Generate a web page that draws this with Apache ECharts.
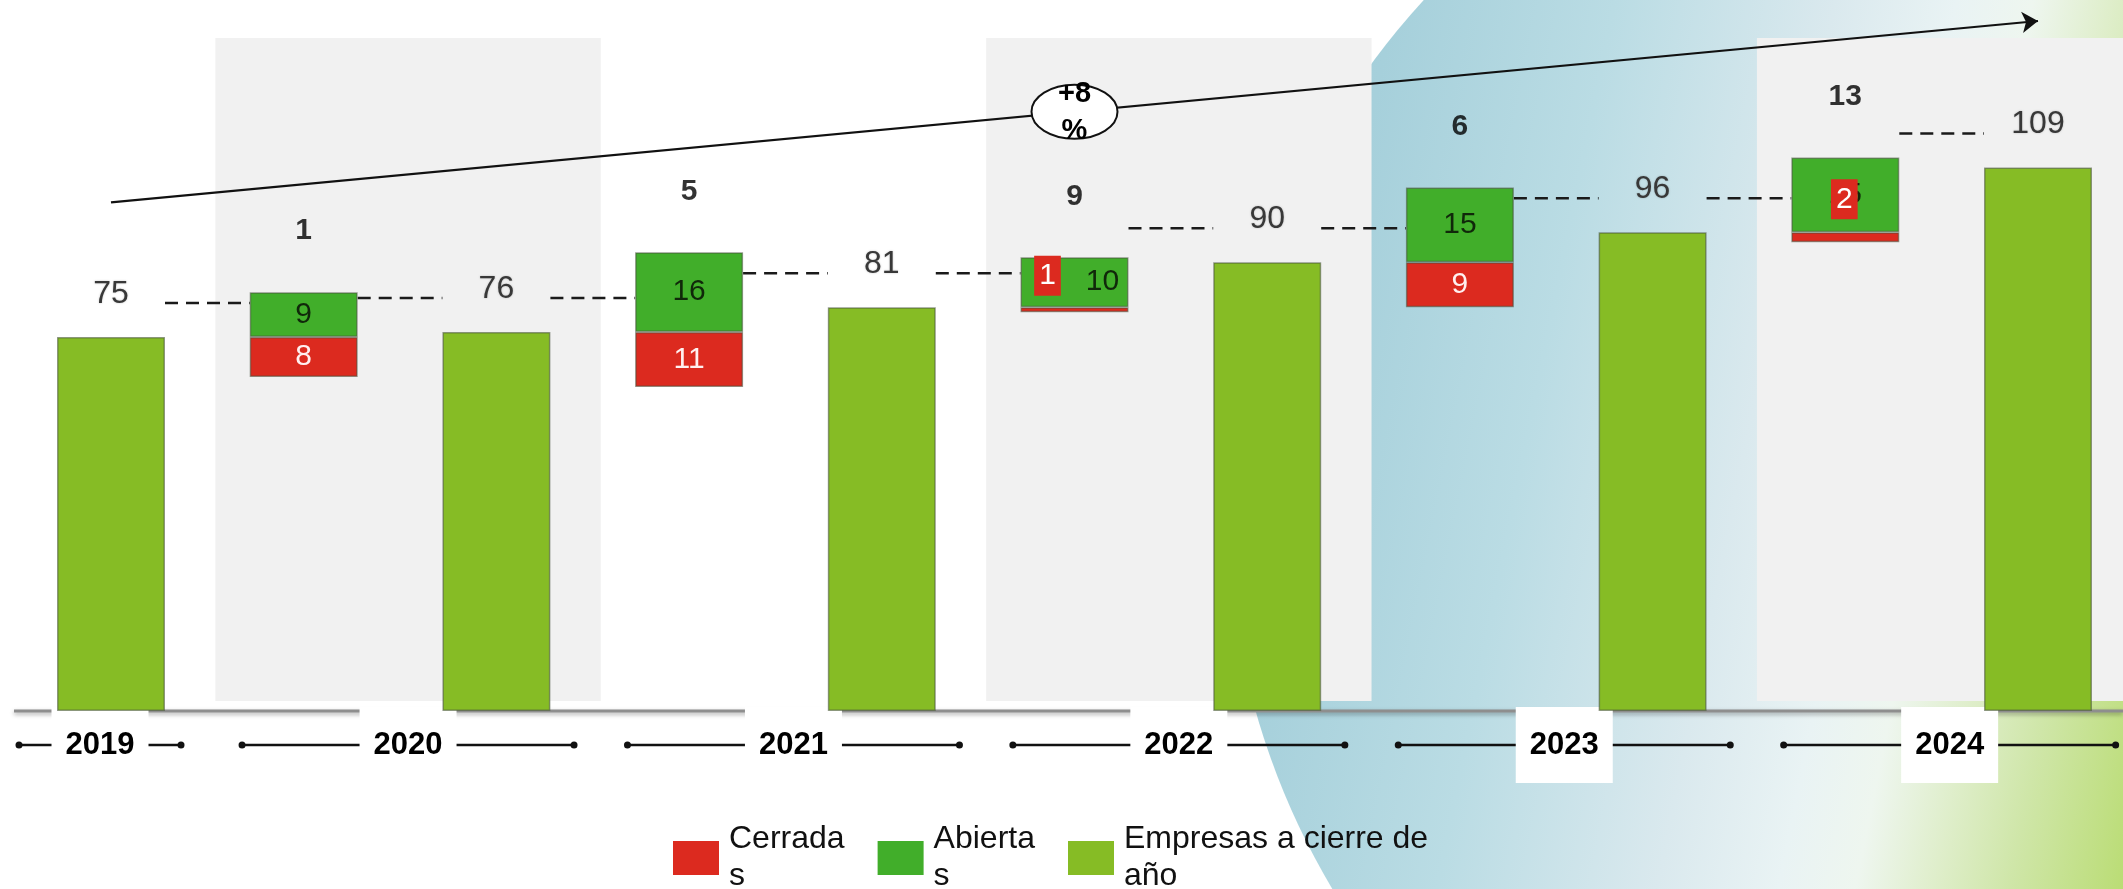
<!DOCTYPE html>
<html>
<head>
<meta charset="utf-8">
<script src="https://cdn.jsdelivr.net/npm/echarts@6/dist/echarts.min.js"></script>
<style>
  html, body { margin: 0; padding: 0; background: #ffffff; }
  #chart { width: 2123px; height: 889px; }
</style>
</head>
<body>
<div id="chart"></div>
<script>
// ---- data -------------------------------------------------------------
const years   = ['2019', '2020', '2021', '2022', '2023', '2024'];
const totals  = [75, 76, 81, 90, 96, 109];   // Empresas a cierre de año
const opened  = [9, 16, 10, 15, 15];         // Abiertas during 2020..2024
const closed  = [8, 11, 1, 9, 2];            // Cerradas during 2020..2024

// ---- look -------------------------------------------------------------
const FONT = '"Liberation Sans", Arial, sans-serif';
const C_TOTAL = '#86bc25';
const C_OPEN  = '#41ae2a';
const C_CLOSE = '#dc2a1f';
const BAR_W = 108;
const TREND_FROM = 102;     // value level where the growth arrow starts
const TREND_TO = 138.4;     // value level where the arrow head sits

// small "Cerradas" values get a tag drawn over the green block
const closedTagOffset = { '2022': [-27, -34], '2024': [-1, -38] };
const openedLabelOffset = { '2022': [28, 0] };

// ---- slot layout: total, move, total, move, ... -------------------------
const slots = [];
years.forEach((y, i) => {
  if (i > 0) slots.push({ kind: 'move', k: i - 1, year: y });
  slots.push({ kind: 'total', k: i, year: y });
});
const catNames = slots.map(s => (s.kind === 'total' ? s.year : 'Δ' + s.year));

const totalData = slots.map(s => (s.kind === 'total' ? totals[s.k] : '-'));
const baseData = slots.map(s => (s.kind === 'move' ? totals[s.k] - closed[s.k] : '-'));
const closedData = slots.map(s => {
  if (s.kind !== 'move') return '-';
  const off = closedTagOffset[s.year];
  if (!off) return closed[s.k];
  return {
    value: closed[s.k],
    label: {
      offset: off, backgroundColor: C_CLOSE, color: '#ffffff',
      padding: [4, 5], lineHeight: 32
    }
  };
});
const openedData = slots.map(s => {
  if (s.kind !== 'move') return '-';
  const off = openedLabelOffset[s.year];
  return off ? { value: opened[s.k], label: { offset: off } } : opened[s.k];
});
const netData = [];
slots.forEach((s, i) => {
  if (s.kind === 'move') {
    netData.push({ value: [i, totals[s.k] + opened[s.k]], net: opened[s.k] - closed[s.k] });
  }
});
const cagr = Math.round((Math.pow(totals[totals.length - 1] / totals[0], 1 / (totals.length - 1)) - 1) * 100);

const barBorder = { borderColor: 'rgba(70,80,60,0.55)', borderWidth: 1.5 };

const chart = echarts.init(document.getElementById('chart'), null, { renderer: 'canvas' });

chart.setOption({
  animation: false,
  backgroundColor: '#ffffff',
  grid: { left: 111, top: 13, width: 1927, height: 698, containLabel: false },
  xAxis: {
    type: 'category',
    data: catNames,
    boundaryGap: false,
    axisTick: { show: false },
    axisLabel: { show: false },
    axisLine: { show: false },
    splitLine: { show: false }
  },
  yAxis: { type: 'value', min: 0, max: 140, show: false, splitLine: { show: false } },
  legend: {
    data: ['Cerradas', 'Abiertas', 'Empresas a cierre de año'],
    left: 673, top: 821, padding: 0,
    icon: 'rect', itemWidth: 46, itemHeight: 34, itemGap: 33,
    itemStyle: { borderWidth: 0 },
    formatter: n => ({ 'Cerradas': 'Cerrada\ns', 'Abiertas': 'Abierta\ns', 'Empresas a cierre de año': 'Empresas a cierre de\naño' }[n]),
    textStyle: { fontFamily: FONT, fontSize: 32, lineHeight: 37, color: '#111111', padding: [0, 0, 0, 5] }
  },
  series: [
    {
      name: 'Empresas a cierre de año', type: 'bar', data: totalData,
      barWidth: BAR_W, barGap: '-100%',
      itemStyle: Object.assign({ color: C_TOTAL }, barBorder),
      label: { show: true, position: 'top', distance: 27, fontFamily: FONT, fontSize: 32, color: '#383838',
               textShadowColor: 'rgba(0,0,0,0.25)', textShadowBlur: 2 },
      markLine: {
        silent: true, symbol: ['none', 'arrow'], symbolSize: 16,
        label: { show: false },
        lineStyle: { color: '#111111', width: 2.2, type: 'solid' },
        data: [[{ coord: [catNames[0], TREND_FROM] }, { coord: [catNames[catNames.length - 1], TREND_TO] }]]
      }
    },
    {
      name: 'base', type: 'bar', stack: 'move', data: baseData, barWidth: BAR_W,
      itemStyle: { color: 'rgba(0,0,0,0)' }, silent: true, label: { show: false }
    },
    {
      name: 'Cerradas', type: 'bar', stack: 'move', data: closedData, barWidth: BAR_W, z: 3,
      itemStyle: Object.assign({ color: C_CLOSE }, barBorder),
      label: { show: true, position: 'inside', fontFamily: FONT, fontSize: 30, color: '#fff0f0' }
    },
    {
      name: 'Abiertas', type: 'bar', stack: 'move', data: openedData, barWidth: BAR_W,
      itemStyle: Object.assign({ color: C_OPEN }, barBorder),
      label: { show: true, position: 'inside', fontFamily: FONT, fontSize: 30, color: '#10280a' }
    },
    {
      name: 'net', type: 'scatter', data: netData, symbolSize: 0, z: 4,
      label: { show: true, position: 'top', distance: 46, fontFamily: FONT, fontSize: 30, fontWeight: 'bold',
               color: '#000000', formatter: p => String(p.data.net) }
    }
  ]
});

// ---- decoration placed through the axes ------------------------------------
function buildGraphics() {
  const px = (i, v) => chart.convertToPixel({ gridIndex: 0 }, [i, v]);
  const band = px(1, 0)[0] - px(0, 0)[0];
  const baseY = px(0, 0)[1];
  const half = BAR_W / 2;
  const els = [];

  // soft blue / green backdrop on the right
  els.push({
    type: 'circle', z: -3, silent: true,
    shape: { cx: 1976, cy: 506, r: 749 },
    style: {
      fill: new echarts.graphic.LinearGradient(1230, 0, 2288, 212, [
        { offset: 0.0, color: '#9ccbd8' },
        { offset: 0.15, color: '#a6d0db' },
        { offset: 0.35, color: '#badce4' },
        { offset: 0.55, color: '#dae9ee' },
        { offset: 0.66, color: '#e9f3f4' },
        { offset: 0.73, color: '#eef6ef' },
        { offset: 0.80, color: '#dfeecb' },
        { offset: 0.87, color: '#cfe6a8' },
        { offset: 1.0, color: '#b5da68' }
      ], true)
    }
  });

  // grey panels behind every second year
  years.forEach((y, k) => {
    if (k % 2 === 1) {
      const xl = px(2 * k - 1, 0)[0] - band / 2 + 8;
      els.push({ type: 'rect', z: -2, silent: true,
        shape: { x: xl, y: 38, width: 2 * band, height: baseY - 10 - 38 },
        style: { fill: '#f1f1f1' } });
    }
  });

  // base line of the chart
  els.push({ type: 'line', z: 0, silent: true,
    shape: { x1: 14, y1: baseY, x2: 2123, y2: baseY },
    style: { stroke: '#8e8e8e', lineWidth: 3, shadowColor: 'rgba(0,0,0,0.35)', shadowBlur: 4, shadowOffsetY: 2 } });

  // dashed connectors at the level of each year-end total
  slots.forEach((s, i) => {
    if (s.kind !== 'total') return;
    const p = px(i, totals[s.k]);
    const y = p[1] - 34;
    const seg = (x1, x2) => els.push({ type: 'line', z: 1, silent: true,
      shape: { x1, y1: y, x2, y2: y },
      style: { stroke: '#1a1a1a', lineWidth: 2.5, lineDash: [13, 8] } });
    if (i > 0) seg(px(i - 1, 0)[0] + half, p[0] - half);
    if (i < slots.length - 1) seg(p[0] + half, px(i + 1, 0)[0] - half);
  });

  // year brackets under the axis
  const yY = 745;
  years.forEach((y, k) => {
    let cx, hw;
    if (k === 0) { cx = px(0, 0)[0] - 11; hw = 81; }
    else { cx = (px(2 * k - 1, 0)[0] + px(2 * k, 0)[0]) / 2 + 8; hw = 166; }
    els.push({ type: 'line', z: 1, silent: true,
      shape: { x1: cx - hw, y1: yY, x2: cx + hw, y2: yY },
      style: { stroke: '#111111', lineWidth: 2.5 } });
    [cx - hw, cx + hw].forEach(x => els.push({ type: 'circle', z: 1, silent: true,
      shape: { cx: x, cy: yY, r: 3.5 }, style: { fill: '#111111' } }));
    els.push({ type: 'rect', z: 1, silent: true,
      shape: { x: cx - 48.5, y: 707, width: 97, height: 76 }, style: { fill: '#ffffff' } });
    els.push({ type: 'text', z: 2, silent: true, x: cx, y: yY,
      style: { text: y, fontFamily: FONT, fontSize: 31, fontWeight: 'bold', fill: '#000000',
               align: 'center', verticalAlign: 'middle' } });
  });

  // growth badge on the middle of the arrow
  const mid = px((slots.length - 1) / 2, (TREND_FROM + TREND_TO) / 2);
  els.push({ type: 'ellipse', z: 10, silent: true,
    shape: { cx: mid[0], cy: mid[1], rx: 43, ry: 27 },
    style: { fill: '#ffffff', stroke: '#111111', lineWidth: 2 } });
  els.push({ type: 'text', z: 11, silent: true, x: mid[0], y: mid[1] + 1,
    style: { text: '+' + cagr + '\n%', fontFamily: FONT, fontSize: 29, fontWeight: 'bold', lineHeight: 37,
             fill: '#000000', align: 'center', verticalAlign: 'middle' } });

  chart.setOption({ graphic: { elements: els } });
}
buildGraphics();
</script>
</body>
</html>
